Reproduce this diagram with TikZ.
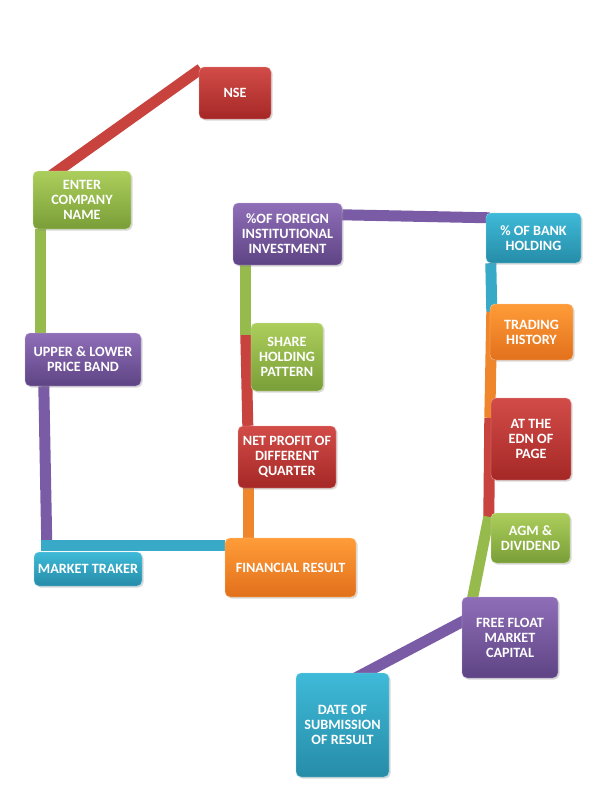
\documentclass[tikz,border=0pt]{standalone}
\usepackage{fontspec}
\setmainfont{Carlito}
\usetikzlibrary{positioning,backgrounds,shadows}
\definecolor{RedTop}{RGB}{210,76,72}
\definecolor{RedBot}{RGB}{165,40,38}
\definecolor{GreenTop}{RGB}{172,206,92}
\definecolor{GreenBot}{RGB}{122,158,56}
\definecolor{PurpleTop}{RGB}{143,110,184}
\definecolor{PurpleBot}{RGB}{94,68,132}
\definecolor{CyanTop}{RGB}{62,186,216}
\definecolor{CyanBot}{RGB}{38,140,168}
\definecolor{OrangeTop}{RGB}{255,156,56}
\definecolor{OrangeBot}{RGB}{226,112,28}
\definecolor{RedBar}{RGB}{200,66,62}
\definecolor{GreenBar}{RGB}{150,186,76}
\definecolor{PurpleBar}{RGB}{122,92,166}
\definecolor{CyanBar}{RGB}{56,170,200}
\definecolor{OrangeBar}{RGB}{240,134,44}

\begin{document}
\begin{tikzpicture}[x=1pt,y=-1pt,
        blk/.style={rectangle,rounded corners=5pt,inner sep=1pt,align=center,
                    text=white,font=\fontsize{14.2}{15}\selectfont\bfseries,
                    drop shadow={opacity=0.3,shadow xshift=1.5pt,shadow yshift=-1.5pt}},
        redbox/.style={blk,top color=RedTop,bottom color=RedBot,draw=RedTop!55!white},
        greenbox/.style={blk,top color=GreenTop,bottom color=GreenBot,draw=GreenTop!55!white},
        purplebox/.style={blk,top color=PurpleTop,bottom color=PurpleBot,draw=PurpleTop!55!white},
        cyanbox/.style={blk,top color=CyanTop,bottom color=CyanBot,draw=CyanTop!55!white},
        orangebox/.style={blk,top color=OrangeTop,bottom color=OrangeBot,draw=OrangeTop!55!white},
        bar/.style={line width=11pt,line cap=butt}
      ]
        \useasboundingbox (0,0) rectangle (589,806);

        % left column
        \node[redbox,minimum width=72pt,minimum height=52pt] (nse) at (235,93) {NSE};
        \node[greenbox,minimum width=98pt,minimum height=58pt] (company) at (82,200) {ENTER\\COMPANY\\NAME};
        \node[purplebox,minimum width=116pt,minimum height=53pt] (band) at (83,359.5) {UPPER \& LOWER\\PRICE BAND};
        \node[cyanbox,minimum width=108pt,minimum height=34pt] (tracker) at (88,569) {MARKET TRAKER};

        % middle column
        \node[orangebox,minimum width=131pt,minimum height=59pt] (financial) at (290.5,567.5) {FINANCIAL RESULT};
        \node[redbox,minimum width=98pt,minimum height=62pt] (profit) at (287,457) {NET PROFIT OF\\DIFFERENT\\QUARTER};
        \node[greenbox,minimum width=72pt,minimum height=68pt] (share) at (287,357) {SHARE\\HOLDING\\PATTERN};
        \node[purplebox,minimum width=109pt,minimum height=62pt] (foreign) at (287.5,234) {\%OF FOREIGN\\INSTITUTIONAL\\INVESTMENT};

        % right column
        \node[cyanbox,minimum width=95pt,minimum height=50pt] (bank) at (533.5,238) {\% OF BANK\\HOLDING};
        \node[orangebox,minimum width=83pt,minimum height=56pt] (trading) at (531.5,332) {TRADING\\HISTORY};
        \node[redbox,minimum width=80pt,minimum height=82pt] (edn) at (531,439) {AT THE\\EDN OF\\PAGE};
        \node[greenbox,minimum width=79pt,minimum height=50pt] (agm) at (530.5,538) {AGM \&\\DIVIDEND};
        \node[purplebox,minimum width=96pt,minimum height=81pt] (float) at (510,637.5) {FREE FLOAT\\MARKET\\CAPITAL};
        \node[cyanbox,minimum width=93pt,minimum height=104pt] (submission) at (342.5,725) {DATE OF\\SUBMISSION\\OF RESULT};

        % junctions between bars
        \coordinate (jl) at ([xshift=13pt,yshift=6pt]tracker.north west);
        \coordinate (jm) at ([xshift=-5pt,yshift=-12pt]share.north west);
        \coordinate (jr1) at ([xshift=2pt,yshift=-8pt]trading.north west);
        \coordinate (jr2) at ([xshift=-1pt,yshift=-20pt]edn.north west);
        \coordinate (jr3) at ([xshift=-2pt,yshift=-4pt]agm.north west);

        \begin{scope}[on background layer]
          \draw[bar,RedBar] ([xshift=2pt,yshift=-2pt]nse.north west) -- ([xshift=18pt,yshift=-5pt]company.north west);
          \draw[bar,GreenBar] ([xshift=8pt]company.south west) -- ([xshift=16pt]band.north west);
          \draw[bar,PurpleBar] ([xshift=19pt]band.south west) -- (jl);
          \draw[bar,CyanBar] ([xshift=-5.5pt]jl) -- ([yshift=-8pt]financial.north west);
          \draw[bar,OrangeBar] ([xshift=24pt]financial.north west) -- ([xshift=11pt]profit.south west);
          \draw[bar,RedBar] ([xshift=10pt]profit.north west) -- (jm);
          \draw[bar,GreenBar] (jm) -- ([xshift=13pt]foreign.south west);
          \draw[bar,PurpleBar] ([yshift=-12pt]foreign.north east) -- ([xshift=4pt,yshift=-5pt]bank.north west);
          \draw[bar,CyanBar] ([xshift=5pt]bank.south west) -- (jr1);
          \draw[bar,OrangeBar] (jr1) -- (jr2);
          \draw[bar,RedBar] (jr2) -- (jr3);
          \draw[bar,GreenBar] (jr3) -- ([xshift=10pt,yshift=-5pt]float.north west);
          \draw[bar,PurpleBar] ([xshift=4pt,yshift=-23pt]float.north west) -- ([xshift=60pt,yshift=-5pt]submission.north west);
        \end{scope}
      \end{tikzpicture}
\end{document}
